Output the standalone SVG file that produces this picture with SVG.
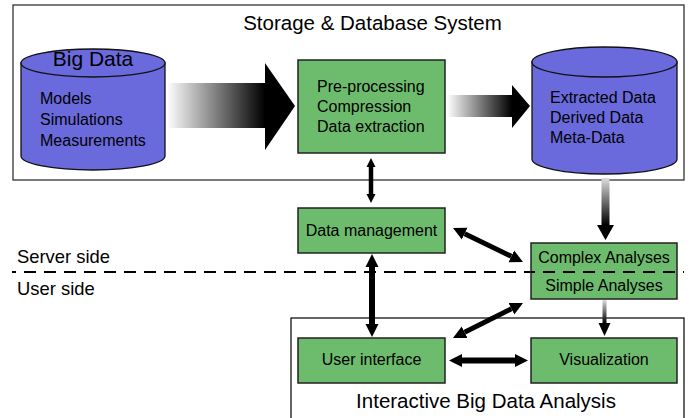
<svg xmlns="http://www.w3.org/2000/svg" width="691" height="418" viewBox="0 0 691 418">
<style>
text{font-family:"Liberation Sans",Arial,sans-serif;fill:#000}
.t16{font-size:16px}
.t18{font-size:18.4px}
.t20{font-size:20.5px}
.mid{text-anchor:middle}
.box{fill:#fff;stroke:#333;stroke-width:1.3}
.node{fill:#6dbb6d;stroke:#222;stroke-width:1.5}
.cyl{fill:#6a6adc;stroke:#111;stroke-width:1.3}
.con{stroke:#000;fill:none}
.dash{stroke:#000;stroke-width:2;stroke-dasharray:12 8;stroke-dashoffset:8}
</style>
<defs>
<marker id="ah" viewBox="0 0 10 10" refX="0" refY="5" markerUnits="userSpaceOnUse" markerWidth="13" markerHeight="15" orient="auto-start-reverse">
<path d="M0,0 L10,5 L0,10 z" fill="#000"/>
</marker>
<marker id="ahs" viewBox="0 0 10 10" refX="0" refY="5" markerUnits="userSpaceOnUse" markerWidth="9" markerHeight="11" orient="auto-start-reverse">
<path d="M0,0 L10,5 L0,10 z" fill="#000"/>
</marker>
<linearGradient id="g1" gradientUnits="userSpaceOnUse" x1="167" y1="0" x2="265" y2="0">
<stop offset="0" stop-color="#fff"/><stop offset="1" stop-color="#000"/>
</linearGradient>
<linearGradient id="g2" gradientUnits="userSpaceOnUse" x1="447" y1="0" x2="512" y2="0">
<stop offset="0" stop-color="#fff"/><stop offset="1" stop-color="#000"/>
</linearGradient>
<linearGradient id="g3" gradientUnits="userSpaceOnUse" x1="0" y1="178" x2="0" y2="225">
<stop offset="0" stop-color="#ddd"/><stop offset="1" stop-color="#000"/>
</linearGradient>
<linearGradient id="g4" gradientUnits="userSpaceOnUse" x1="0" y1="300" x2="0" y2="323">
<stop offset="0" stop-color="#ddd"/><stop offset="1" stop-color="#000"/>
</linearGradient>
</defs>
<rect width="691" height="418" fill="#fff"/>

<g id="storage-system">
<rect class="box" x="13" y="5" width="671" height="175"/>
<text class="t20 mid" x="372.5" y="30">Storage &amp; Database System</text>
</g>

<g id="interactive-analysis">
<rect class="box" x="291" y="318" width="393" height="110" style="stroke:#000;stroke-width:1.2"/>
<text class="t20 mid" x="486" y="408">Interactive Big Data Analysis</text>
</g>

<g id="side-divider">
<line class="dash" x1="12" y1="272" x2="684" y2="272"/>
<text class="t18" x="17" y="263">Server side</text>
<text class="t18" x="17" y="295">User side</text>
</g>

<g id="big-data">
<path class="cyl" d="M21,63 L21,156 A72,14 0 0 0 165,156 L165,63 Z"/>
<ellipse class="cyl" cx="93" cy="63" rx="72" ry="14"/>
<text class="mid" x="93" y="66" style="font-size:21px">Big Data</text>
<text class="t16" x="40" y="104">Models</text>
<text class="t16" x="40" y="125">Simulations</text>
<text class="t16" x="40" y="146">Measurements</text>
</g>

<g id="preprocessing">
<rect class="node" x="298" y="60" width="147" height="93"/>
<text class="t16" x="317" y="92">Pre-processing</text>
<text class="t16" x="317" y="112">Compression</text>
<text class="t16" x="317" y="132">Data extraction</text>
</g>

<g id="extracted-data">
<path class="cyl" d="M532,62 L532,159 A72.5,15 0 0 0 677,159 L677,62 Z"/>
<ellipse class="cyl" cx="604.5" cy="62" rx="72.5" ry="15"/>
<text class="t16" x="550" y="103">Extracted Data</text>
<text class="t16" x="550" y="123">Derived Data</text>
<text class="t16" x="550" y="143">Meta-Data</text>
</g>

<g id="data-management">
<rect class="node" x="298" y="208" width="147" height="45"/>
<text class="t16 mid" x="371.5" y="236">Data management</text>
</g>

<g id="analyses">
<rect class="node" x="531" y="243" width="146" height="56"/>
<text class="t16 mid" x="604" y="263">Complex Analyses</text>
<text class="t16 mid" x="604" y="291">Simple Analyses</text>
<line class="dash" x1="531" y1="272" x2="684" y2="272"/>
</g>

<g id="user-interface">
<rect class="node" x="298" y="338" width="147" height="45"/>
<text class="t16 mid" x="371.5" y="365">User interface</text>
</g>

<g id="visualization">
<rect class="node" x="531" y="338" width="146" height="45"/>
<text class="t16 mid" x="604" y="365">Visualization</text>
</g>

<g id="connectors">
<polygon points="167,83 265,83 265,63 295,106 265,150 265,128 167,128" fill="url(#g1)"/>
<polygon points="447,95 512,95 512,85 530,106 512,128 512,117 447,117" fill="url(#g2)"/>
<polygon points="601.5,178 609.5,178 609.5,225 614,225 605.5,240 597,225 601.5,225" fill="url(#g3)"/>
<polygon points="602.5,300 606.5,300 606.5,323 610.5,323 604.5,336 598.5,323 602.5,323" fill="url(#g4)"/>
<line class="con" x1="371" y1="167" x2="371" y2="194" stroke-width="4.5" marker-start="url(#ahs)" marker-end="url(#ahs)"/>
<line class="con" x1="372" y1="267" x2="372" y2="324" stroke-width="6" marker-start="url(#ah)" marker-end="url(#ah)"/>
<line class="con" x1="464.7" y1="233.7" x2="511.3" y2="256.3" stroke-width="5" marker-start="url(#ah)" marker-end="url(#ah)"/>
<line class="con" x1="511.4" y1="308.8" x2="464.6" y2="332.2" stroke-width="5" marker-start="url(#ah)" marker-end="url(#ah)"/>
<line class="con" x1="462" y1="360.5" x2="515" y2="360.5" stroke-width="6" marker-start="url(#ah)" marker-end="url(#ah)"/>
</g>
</svg>
